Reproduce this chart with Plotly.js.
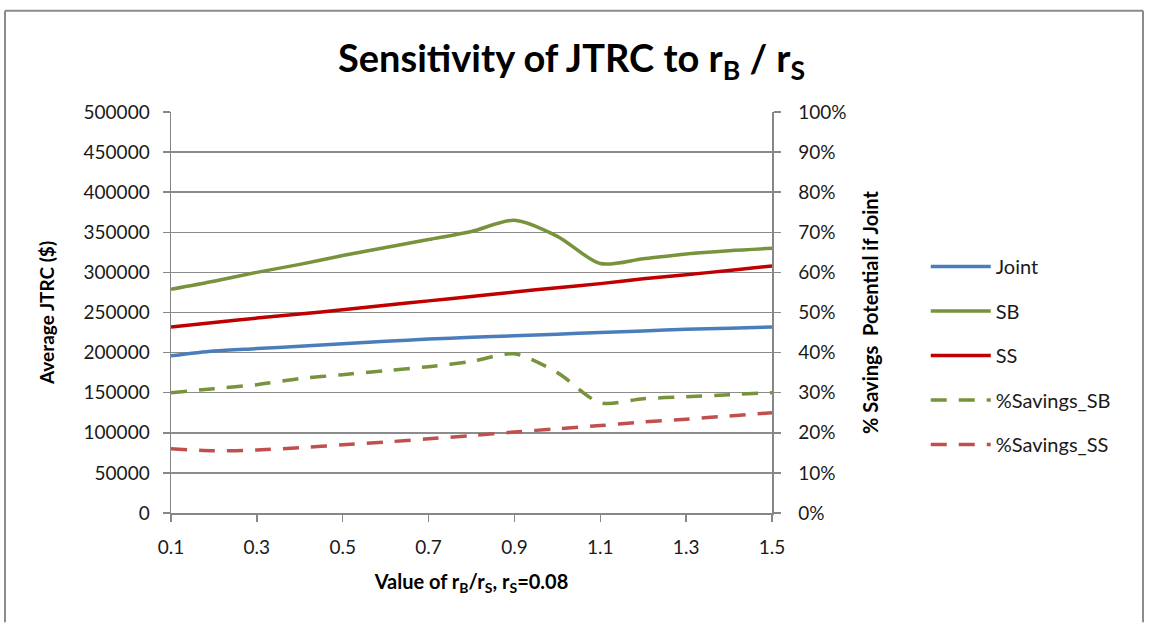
<!DOCTYPE html>
<html>
<head>
<meta charset="utf-8">
<script src="https://cdn.plot.ly/plotly-3.0.1.min.js"></script>
<style>
html,body{margin:0;padding:0;background:#fff;}
#chart{width:1150px;height:623px;}
</style>
</head>
<body>
<div id="chart"></div>
<script>
// ---- data ----
const ratio = [0.1,0.2,0.3,0.4,0.5,0.6,0.7,0.8,0.9,1.0,1.1,1.2,1.3,1.4,1.5];
const joint = [196000,202000,205000,208000,211000,214000,217000,219000,221000,223000,225000,227000,229000,230500,232000];
const sb    = [279000,289000,300000,310000,321000,331000,341000,351000,365000,345000,311000,317000,323000,327000,330000];
const ss    = [232000,237500,243000,248000,253500,259000,264500,270000,275500,281000,286000,292000,297000,302500,308000];
const pctSB = [0.300,0.310,0.320,0.335,0.345,0.355,0.365,0.378,0.397,0.350,0.275,0.285,0.290,0.295,0.300];
const pctSS = [0.160,0.155,0.157,0.163,0.170,0.177,0.185,0.193,0.202,0.210,0.218,0.227,0.234,0.242,0.250];
const seriesNames = ['Joint','SB','SS','%Savings_SB','%Savings_SS'];
const xTicks = [0.1,0.3,0.5,0.7,0.9,1.1,1.3,1.5];
const yTicks = [0,50000,100000,150000,200000,250000,300000,350000,400000,450000,500000];
const y2Ticks = [0,0.1,0.2,0.3,0.4,0.5,0.6,0.7,0.8,0.9,1.0];

const FONT = 'Lato, "Open Sans", "Liberation Sans", sans-serif';
const W = 3.5;
const TICKSZ = 19;

function tr(y, name, color, axis, dash, grp){
  return {
    x: ratio, y: y, name: name, type: 'scatter', mode: 'lines',
    yaxis: axis, legendgroup: grp,
    line: {color: color, width: W, shape: 'spline', smoothing: 0.8, dash: dash}
  };
}

const traces = [
  tr(joint, seriesNames[0], '#4a7ebb', 'y', 'solid', 'g1'),
  tr(sb,    seriesNames[1], '#77933c', 'y', 'solid', 'g2'),
  tr(ss,    seriesNames[2], '#c00000', 'y', 'solid', 'g3'),
  tr(pctSB, seriesNames[3], '#77933c', 'y2', '16px,12px', 'g4'),
  tr(pctSS, seriesNames[4], '#c0504d', 'y2', '16px,12px', 'g5')
];

// plot area in pixels: x 171..772, y 111.5..513.5
const L = 171, R = 772, T = 111.5, B = 513.5;
const px = v => (v - L) / (R - L);
const py = v => (B - v) / (B - T);

const axisCommon = {
  zeroline: false,
  showline: true, linecolor: '#878787', linewidth: 1.5,
  ticks: 'outside', ticklen: 7, tickcolor: '#878787', tickwidth: 1.5,
  tickfont: {family: FONT, size: TICKSZ, color: '#1a1a1a'},
  automargin: false
};

const layout = {
  width: 1150, height: 623,
  margin: {l: L, r: 1150 - R, t: T, b: 623 - B, pad: 0},
  paper_bgcolor: '#ffffff', plot_bgcolor: '#ffffff',
  font: {family: FONT, color: '#1a1a1a', size: 15},
  showlegend: true,
  title: {
    text: 'Sensitivity of JTRC to r<sub>B</sub> / r<sub>S</sub>',
    font: {family: FONT, size: 38, color: '#000', weight: 'bold'},
    x: 0.497, xanchor: 'center', xref: 'container',
    y: 0.905, yanchor: 'middle', yref: 'container'
  },
  xaxis: Object.assign({}, axisCommon, {
    range: [0.1, 1.5], tickvals: xTicks, ticktext: xTicks.map(v => v.toFixed(1)),
    showgrid: false, ticklabelstandoff: 10,
    title: {text: '<b>Value of r<sub>B</sub>/r<sub>S</sub>, r<sub>S</sub>=0.08</b>',
            font: {family: FONT, size: 20, color: '#000'}, standoff: 17}
  }),
  yaxis: Object.assign({}, axisCommon, {
    range: [0, 500000], tickvals: yTicks, ticktext: yTicks.map(String),
    showgrid: true, gridcolor: '#8c8c8c', gridwidth: 1.5, ticklabelstandoff: 9,
    title: {text: '<b>Average JTRC ($)</b>', font: {family: FONT, size: 19, color: '#000'}, standoff: 24}
  }),
  yaxis2: Object.assign({}, axisCommon, {
    overlaying: 'y', side: 'right',
    range: [0, 1], tickvals: y2Ticks, ticktext: y2Ticks.map(v => Math.round(v*100) + '%'),
    showgrid: false, ticklabelstandoff: 14,
    title: {text: '<b>% Savings  Potential if Joint</b>', font: {family: FONT, size: 20, color: '#000'}, standoff: 18}
  }),
  legend: {
    xref: 'container', yref: 'container',
    x: 0.805, xanchor: 'left', y: 1 - 247/623, yanchor: 'top',
    font: {family: FONT, size: 20, color: '#1a1a1a'},
    bgcolor: 'rgba(0,0,0,0)', tracegroupgap: 15.5, itemwidth: 60,
    traceorder: 'grouped'
  },
  shapes: [
    {type: 'line', xref: 'paper', yref: 'paper', x0: px(5), x1: px(1143), y0: py(10), y1: py(10), line: {color: '#8c8c8c', width: 2}},
    {type: 'line', xref: 'paper', yref: 'paper', x0: px(5), x1: px(5), y0: py(10), y1: py(623), line: {color: '#8c8c8c', width: 2}},
    {type: 'line', xref: 'paper', yref: 'paper', x0: px(1143), x1: px(1143), y0: py(10), y1: py(623), line: {color: '#8c8c8c', width: 2}}
  ]
};

Plotly.newPlot('chart', traces, layout, {displayModeBar: false, staticPlot: true});
</script>
</body>
</html>
